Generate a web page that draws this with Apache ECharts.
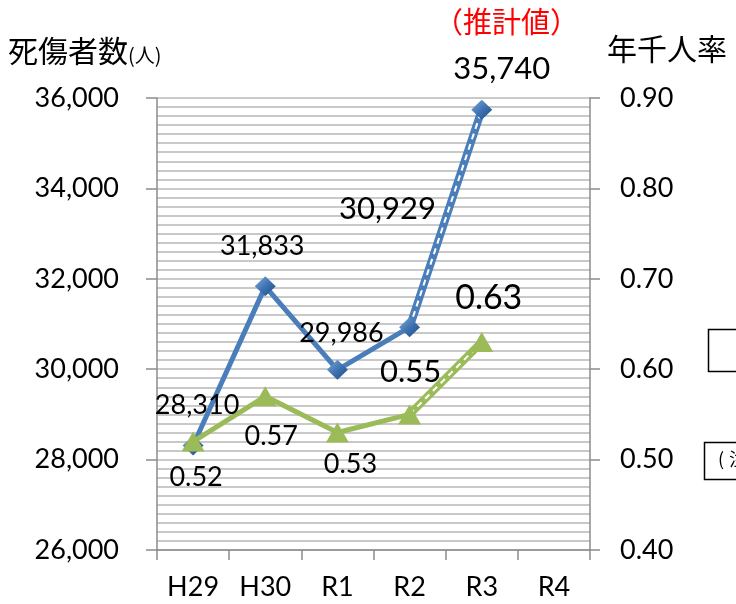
<!DOCTYPE html>
<html>
<head>
<meta charset="utf-8">
<script src="https://cdn.jsdelivr.net/npm/echarts@6/dist/echarts.min.js"></script>
<style>
  html, body { margin: 0; padding: 0; background: #fff; }
  #chart { width: 736px; height: 604px; }
</style>
</head>
<body>
<div id="chart"></div>
<script>
const years = ['H29', 'H30', 'R1', 'R2', 'R3', 'R4']
const casualties = [28310, 31833, 29986, 30929, 35740]
const rates = [0.52, 0.57, 0.53, 0.55, 0.63]

const NUM_FONT = 'Lato, "Noto Sans CJK JP", sans-serif'
const JP_FONT = '"Noto Sans CJK JP", sans-serif'
const BLUE = '#4A7EBB'
const GREEN = '#9BBB59'
const GRID = '#B8B8B8'
const AXIS = '#8C8C8C'

// label offsets per point (px)
const blueOffsets = [[4, -40], [-3, -40], [4, -37], [-22, -118], [20, -41]]
const blueSizes = [27, 27, 27, 31, 31]
const greenOffsets = [[3, 36], [6, 40], [13, 32], [1, -42], [7, -44]]
const greenSizes = [27, 27, 27, 31, 34]

const fmt = v => v.toLocaleString('en-US')
const tail = arr => arr.map((v, i) => (i >= arr.length - 2 ? v : null))

const chart = echarts.init(document.getElementById('chart'))
chart.setOption({
  animation: false,
  grid: { left: 157, right: 146, top: 98, bottom: 54 },
  xAxis: {
    type: 'category',
    data: years,
    boundaryGap: true,
    axisLine: { lineStyle: { color: AXIS, width: 1.5 } },
    axisTick: { show: true, length: 10, alignWithLabel: false, lineStyle: { color: AXIS, width: 1.5 } },
    axisLabel: { color: '#000', fontFamily: NUM_FONT, fontSize: 27, margin: 24 }
  },
  yAxis: [
    {
      type: 'value',
      min: 26000,
      max: 36000,
      interval: 2000,
      axisLine: { show: true, lineStyle: { color: AXIS, width: 1.5 } },
      axisTick: { show: true, length: 11, lineStyle: { color: AXIS, width: 1.5 } },
      axisLabel: { color: '#000', fontFamily: NUM_FONT, fontSize: 27, margin: 38, formatter: v => fmt(v) },
      splitLine: { show: true, lineStyle: { color: GRID, width: 1.5 } },
      minorTick: { show: false, splitNumber: 10 },
      minorSplitLine: { show: true, lineStyle: { color: GRID, width: 1.5 } }
    },
    {
      type: 'value',
      min: 0.4,
      max: 0.9,
      interval: 0.1,
      position: 'right',
      axisLine: { show: true, lineStyle: { color: AXIS, width: 1.5 } },
      axisTick: { show: true, length: 10, lineStyle: { color: AXIS, width: 1.5 } },
      axisLabel: { color: '#000', fontFamily: NUM_FONT, fontSize: 27, margin: 30, formatter: v => v.toFixed(2) },
      splitLine: { show: false }
    }
  ],
  series: [
    {
      type: 'line', yAxisIndex: 0, data: casualties, showSymbol: false, symbol: 'none',
      lineStyle: { color: BLUE, width: 5 }, z: 2
    },
    {
      type: 'line', yAxisIndex: 0, data: tail(casualties), symbol: 'none',
      lineStyle: { color: BLUE, width: 8 }, z: 3
    },
    {
      type: 'line', yAxisIndex: 0, data: tail(casualties), symbol: 'none',
      lineStyle: { color: '#fff', width: 2, type: [6, 5] }, z: 4
    },
    {
      type: 'line', yAxisIndex: 1, data: rates, showSymbol: false, symbol: 'none',
      lineStyle: { color: GREEN, width: 5 }, z: 2
    },
    {
      type: 'line', yAxisIndex: 1, data: tail(rates), symbol: 'none',
      lineStyle: { color: GREEN, width: 8 }, z: 3
    },
    {
      type: 'line', yAxisIndex: 1, data: tail(rates), symbol: 'none',
      lineStyle: { color: '#fff', width: 2, type: [6, 5] }, z: 4
    },
    {
      type: 'scatter', yAxisIndex: 0, symbol: 'diamond', symbolSize: [21, 20], z: 10,
      itemStyle: {
        opacity: 1,
        color: new echarts.graphic.LinearGradient(0, 0, 1, 1, [
          { offset: 0, color: '#7FA8DA' },
          { offset: 0.5, color: '#3F73B2' },
          { offset: 1, color: '#1F4A80' }
        ])
      },
      data: casualties.map((v, i) => ({
        value: v,
        label: {
          show: true, position: 'inside', offset: blueOffsets[i],
          formatter: fmt(v), color: '#000', opacity: 1, fontFamily: NUM_FONT, fontSize: blueSizes[i]
        }
      }))
    },
    {
      type: 'scatter', yAxisIndex: 1, symbol: 'triangle', symbolSize: [23, 20], z: 10,
      itemStyle: { color: GREEN, opacity: 1 },
      data: rates.map((v, i) => ({
        value: v,
        label: {
          show: true, position: 'inside', offset: greenOffsets[i],
          formatter: v.toFixed(2), color: '#000', opacity: 1, fontFamily: NUM_FONT, fontSize: greenSizes[i]
        }
      }))
    }
  ],
  graphic: [
    {
      type: 'text', left: 8, top: 36,
      style: {
        text: '{a|死傷者数}{b|(人)}',
        rich: {
          a: { fontFamily: JP_FONT, fontSize: 30, fill: '#000' },
          b: { fontFamily: JP_FONT, fontSize: 20, fill: '#000', padding: [8, 0, 0, 0] }
        }
      }
    },
    {
      type: 'text', left: 607, top: 34,
      style: { text: '年千人率', fontFamily: JP_FONT, fontSize: 30, fill: '#000' }
    },
    {
      type: 'text', left: 434, top: 7,
      style: { text: '（推計値）', fontFamily: JP_FONT, fontSize: 29, fill: '#FF0000' }
    },
    {
      type: 'rect', shape: { x: 708.5, y: 329.5, width: 60, height: 42 },
      style: { fill: '#fff', stroke: '#000', lineWidth: 1.5 }
    },
    {
      type: 'rect', shape: { x: 704.5, y: 442.5, width: 60, height: 37 },
      style: { fill: '#fff', stroke: '#000', lineWidth: 1.5 }
    },
    {
      type: 'text', left: 718, top: 450,
      style: { text: '(', fontFamily: JP_FONT, fontSize: 18, fill: '#000' }
    },
    {
      type: 'text', left: 729, top: 450,
      style: { text: '注', fontFamily: JP_FONT, fontSize: 18, fill: '#000' }
    }
  ]
})
</script>
</body>
</html>
